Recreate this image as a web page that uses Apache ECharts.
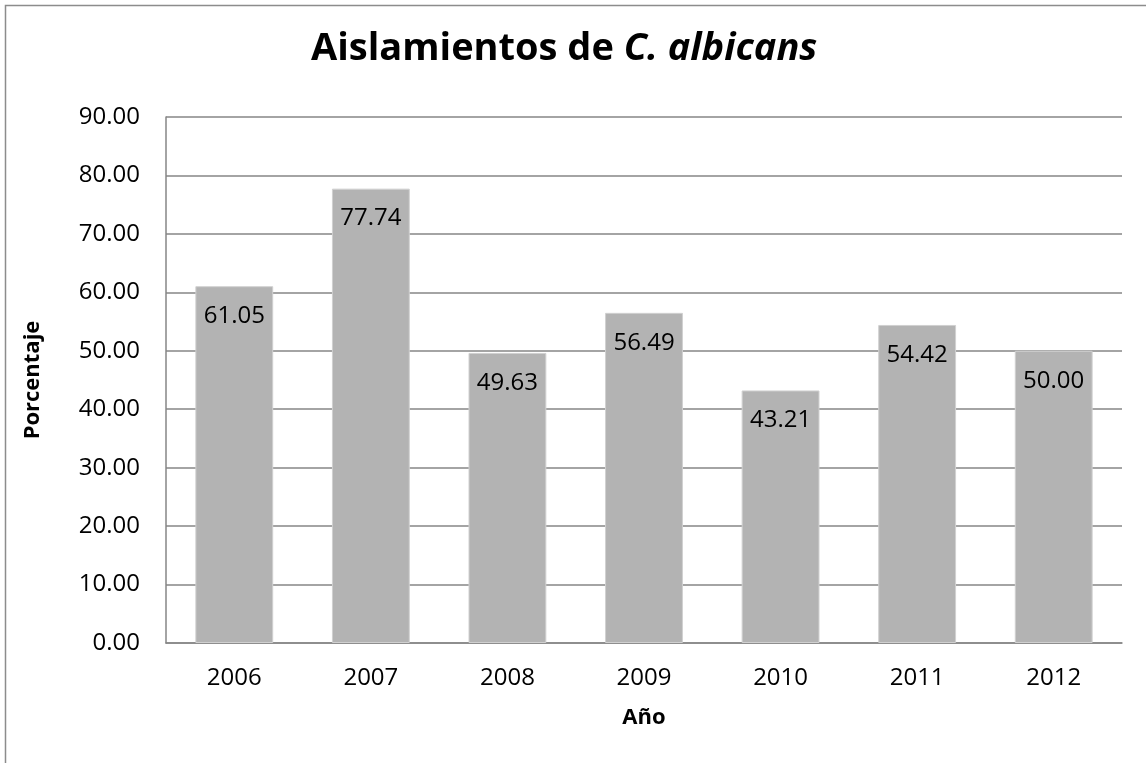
<!DOCTYPE html>
<html>
<head>
<meta charset="utf-8">
<script src="https://cdn.jsdelivr.net/npm/echarts@6/dist/echarts.min.js"></script>
<style>
  html, body { margin: 0; padding: 0; background: #fff; }
  #chart { width: 1146px; height: 763px; }
</style>
</head>
<body>
<div id="chart"></div>
<script>
// Yearly share of C. albicans isolates (%)
const years = ['2006', '2007', '2008', '2009', '2010', '2011', '2012'];
const percentages = [61.05, 77.74, 49.63, 56.49, 43.21, 54.42, 50.00];
const yTicks = { min: 0, max: 90, interval: 10 };

const FONT = '"Open Sans", "Noto Sans", sans-serif';
const NUM = 24;   // tick and value labels
const NAME = 22;  // axis titles
const chart = echarts.init(document.getElementById('chart'), null, { renderer: 'canvas' });

chart.setOption({
  backgroundColor: '#ffffff',
  animation: false,
  title: {
    text: '{b|Aislamientos de }{i|C. albicans}',
    left: 306,
    top: 25,
    textStyle: {
      rich: {
        b: { fontFamily: FONT, fontWeight: 'bold', fontSize: 38, color: '#000' },
        i: { fontFamily: FONT, fontWeight: 'bold', fontStyle: 'italic', fontSize: 38, color: '#000' }
      }
    }
  },
  graphic: [{
    type: 'rect',
    shape: { x: 5.5, y: 5.5, width: 1300, height: 900 },
    style: { fill: 'none', stroke: '#8c8c8c', lineWidth: 1.5 },
    silent: true
  }],
  grid: { left: 166, right: 24, top: 117, bottom: 120 },
  xAxis: {
    type: 'category',
    data: years,
    name: 'Año',
    nameLocation: 'middle',
    nameGap: 64,
    nameTextStyle: { fontFamily: FONT, fontWeight: 'bold', fontSize: NAME, color: '#000' },
    axisLine: { lineStyle: { color: '#868686', width: 1.5 } },
    axisTick: { show: false },
    axisLabel: { fontFamily: FONT, fontSize: NUM, color: '#000', margin: 23 }
  },
  yAxis: {
    type: 'value',
    min: yTicks.min,
    max: yTicks.max,
    interval: yTicks.interval,
    name: 'Porcentaje',
    nameLocation: 'middle',
    nameGap: 122,
    nameTextStyle: { fontFamily: FONT, fontWeight: 'bold', fontSize: NAME, color: '#000' },
    axisLine: { show: true, lineStyle: { color: '#868686', width: 1.5 } },
    axisTick: { show: false },
    splitLine: { lineStyle: { color: '#868686', width: 1.5 } },
    axisLabel: {
      fontFamily: FONT, fontSize: NUM, color: '#000', margin: 26,
      formatter: v => v.toFixed(2)
    }
  },
  series: [{
    type: 'bar',
    data: percentages,
    barWidth: '57%',
    itemStyle: { color: '#b3b3b3', borderColor: '#d0d0d0', borderWidth: 1 },
    label: {
      show: true,
      position: 'insideTop',
      distance: 18,
      fontFamily: FONT,
      fontSize: NUM,
      color: '#000',
      formatter: p => p.value.toFixed(2)
    }
  }]
});
</script>
</body>
</html>
